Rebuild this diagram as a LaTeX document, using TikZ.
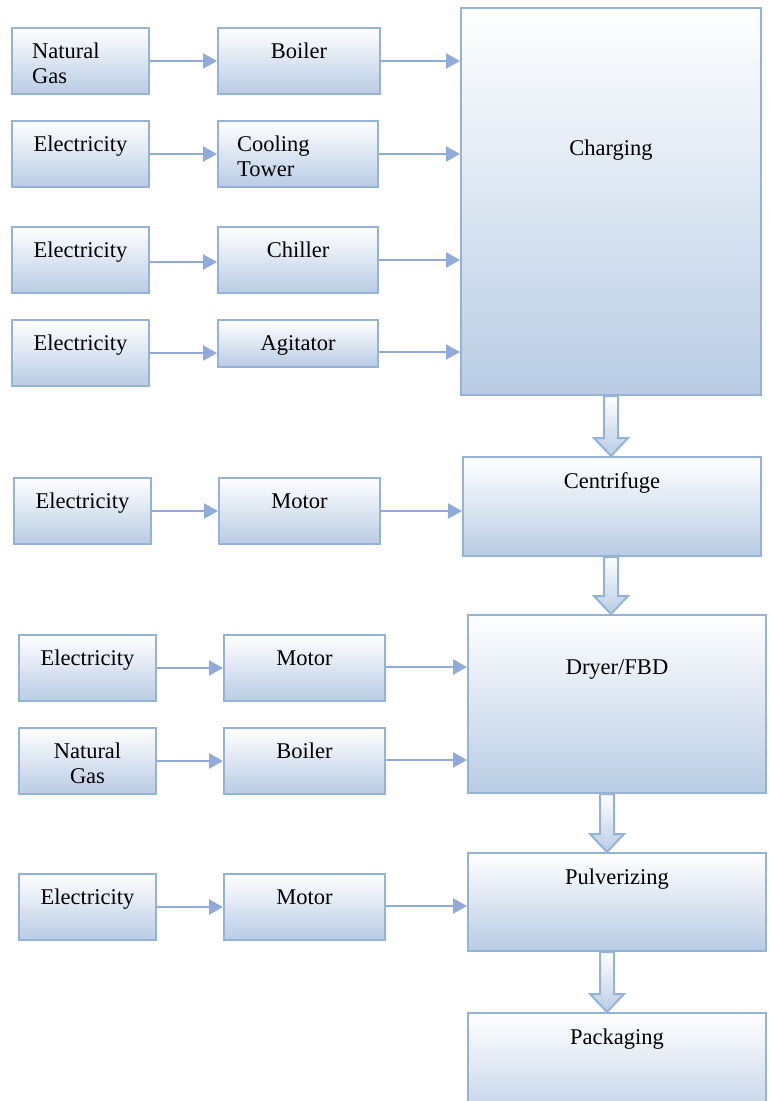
\documentclass[tikz,border=0pt]{standalone}
\usepackage{fontspec}
\setmainfont{Liberation Serif}
\usetikzlibrary{arrows.meta,calc}
\definecolor{edge}{RGB}{149,179,215}
\definecolor{boxbot}{RGB}{184,204,228}
\definecolor{arr}{RGB}{143,170,219}
\tikzset{
  box/.style={draw=edge, line width=2pt, top color=white, bottom color=boxbot, inner sep=0pt, rectangle},
  txt/.style={inner sep=0pt, anchor=base, font=\fontsize{22.5}{25}\selectfont, align=center},
  ltxt/.style={inner sep=0pt, font=\fontsize{22.5}{25}\selectfont, align=left, anchor=north west},
  ctxt/.style={inner sep=0pt, font=\fontsize{22.5}{25}\selectfont, align=center, anchor=north},
  flow/.style={draw=arr, line width=2.5pt, -{Triangle[length=14pt,width=15pt]}},
  blockarrow/.style={draw=edge, line width=2pt, top color=white, bottom color=boxbot}
}
\begin{document}
\begin{tikzpicture}[x=1pt,y=-1pt]
\useasboundingbox (0,0) rectangle (770,1101);
% row boxes
\node[box, minimum width=137pt, minimum height=66pt] (ng1) at (80.5,61) {};
\node[box, minimum width=162pt, minimum height=66pt] (b1) at (299,61) {};
\node[box, minimum width=137pt, minimum height=66pt] (e2) at (80.5,154) {};
\node[box, minimum width=160pt, minimum height=66pt] (ct) at (298,154) {};
\node[box, minimum width=137pt, minimum height=66pt] (e3) at (80.5,260) {};
\node[box, minimum width=160pt, minimum height=66pt] (chil) at (298,260) {};
\node[box, minimum width=137pt, minimum height=66pt] (e4) at (80.5,353) {};
\node[box, minimum width=160pt, minimum height=47pt] (ag) at (298,343.5) {};
\node[box, minimum width=300pt, minimum height=387pt] (chg) at (611,201.5) {};
\node[box, minimum width=137pt, minimum height=66pt] (e5) at (82.5,511) {};
\node[box, minimum width=161pt, minimum height=66pt] (m5) at (299.5,511) {};
\node[box, minimum width=298pt, minimum height=99pt] (cf) at (612,506.5) {};
\node[box, minimum width=137pt, minimum height=66pt] (e6) at (87.5,668) {};
\node[box, minimum width=161pt, minimum height=66pt] (m6) at (304.5,668) {};
\node[box, minimum width=137pt, minimum height=66pt] (ng7) at (87.5,761) {};
\node[box, minimum width=161pt, minimum height=66pt] (b7) at (304.5,761) {};
\node[box, minimum width=298pt, minimum height=178pt] (dry) at (617,704) {};
\node[box, minimum width=137pt, minimum height=66pt] (e8) at (87.5,907) {};
\node[box, minimum width=161pt, minimum height=66pt] (m8) at (304.5,907) {};
\node[box, minimum width=298pt, minimum height=98pt] (pul) at (617,902) {};
\node[box, minimum width=298pt, minimum height=120pt] (pack) at (617,1073) {};
% texts
\node[ltxt] (ng1t) at ([xshift=21pt,yshift=-15.5pt]ng1.north west) {Natural\\Gas};
\node[txt] (b1t) at ([yshift=-31pt]b1.north) {Boiler};
\node[txt] (e2t) at ([yshift=-31pt]e2.north) {Electricity};
\node[ltxt] (ctt) at ([xshift=20pt,yshift=-15.5pt]ct.north west) {Cooling\\Tower};
\node[txt] (e3t) at ([yshift=-31pt]e3.north) {Electricity};
\node[txt] (chilt) at ([yshift=-31pt]chil.north) {Chiller};
\node[txt] (e4t) at ([yshift=-31pt]e4.north) {Electricity};
\node[txt] (agt) at ([yshift=-31pt]ag.north) {Agitator};
\node[txt] (chgt) at ([yshift=-148pt]chg.north) {Charging};
\node[txt] (e5t) at ([yshift=-31pt]e5.north) {Electricity};
\node[txt] (m5t) at ([yshift=-31pt]m5.north) {Motor};
\node[txt] (cft) at ([yshift=-32pt]cf.north) {Centrifuge};
\node[txt] (e6t) at ([yshift=-31pt]e6.north) {Electricity};
\node[txt] (m6t) at ([yshift=-31pt]m6.north) {Motor};
\node[ctxt] (ng7t) at ([yshift=-15.5pt]ng7.north) {Natural\\Gas};
\node[txt] (b7t) at ([yshift=-31pt]b7.north) {Boiler};
\node[txt] (dryt) at ([yshift=-60pt]dry.north) {Dryer/FBD};
\node[txt] (e8t) at ([yshift=-31pt]e8.north) {Electricity};
\node[txt] (m8t) at ([yshift=-31pt]m8.north) {Motor};
\node[txt] (pult) at ([yshift=-32pt]pul.north) {Pulverizing};
\node[txt] (packt) at ([yshift=-32pt]pack.north) {Packaging};
% horizontal arrows
\draw[flow] (ng1) -- (b1);
\draw[flow] (b1.east) -- (b1.east -| chg.west);
\draw[flow] (e2.east) -- (e2.east -| ct.west);
\draw[flow] (ct.east) -- (ct.east -| chg.west);
\draw[flow] ([yshift=-2pt]e3.east) -- ([yshift=-2pt]e3.east -| chil.west);
\draw[flow] (chil.east) -- (chil.east -| chg.west);
\draw[flow] (e4.east) -- (e4.east -| ag.west);
\draw[flow] ([yshift=-8.5pt]ag.east) -- ([yshift=-8.5pt]ag.east -| chg.west);
\draw[flow] (e5.east) -- (e5.east -| m5.west);
\draw[flow] (m5.east) -- (m5.east -| cf.west);
\draw[flow] (e6.east) -- (e6.east -| m6.west);
\draw[flow] ([yshift=1pt]m6.east) -- ([yshift=1pt]m6.east -| dry.west);
\draw[flow] (ng7.east) -- (ng7.east -| b7.west);
\draw[flow] ([yshift=1pt]b7.east) -- ([yshift=1pt]b7.east -| dry.west);
\draw[flow] (e8.east) -- (e8.east -| m8.west);
\draw[flow] ([yshift=1pt]m8.east) -- ([yshift=1pt]m8.east -| pul.west);
% block arrows
\path[blockarrow] let \p1=(chg.south), \p2=(cf.north) in
  (\x1-7pt,\y1) -- (\x1-7pt,\y2+18pt) -- (\x1-17pt,\y2+18pt) -- (\x1,\y2) -- (\x1+17pt,\y2+18pt) -- (\x1+7pt,\y2+18pt) -- (\x1+7pt,\y1) -- cycle;
\path[blockarrow] let \p1=(cf.south), \p2=(dry.north) in
  (\x1-8pt,\y1) -- (\x1-8pt,\y2+18pt) -- (\x1-18pt,\y2+18pt) -- (\x1-1pt,\y2) -- (\x1+16pt,\y2+18pt) -- (\x1+6pt,\y2+18pt) -- (\x1+6pt,\y1) -- cycle;
\path[blockarrow] let \p1=(dry.south), \p2=(pul.north) in
  (\x1-17pt,\y1) -- (\x1-17pt,\y2+18pt) -- (\x1-27pt,\y2+18pt) -- (\x1-10pt,\y2) -- (\x1+7pt,\y2+18pt) -- (\x1-3pt,\y2+18pt) -- (\x1-3pt,\y1) -- cycle;
\path[blockarrow] let \p1=(pul.south), \p2=(pack.north) in
  (\x1-17pt,\y1) -- (\x1-17pt,\y2+18pt) -- (\x1-27pt,\y2+18pt) -- (\x1-10pt,\y2) -- (\x1+7pt,\y2+18pt) -- (\x1-3pt,\y2+18pt) -- (\x1-3pt,\y1) -- cycle;
\end{tikzpicture}
\end{document}
